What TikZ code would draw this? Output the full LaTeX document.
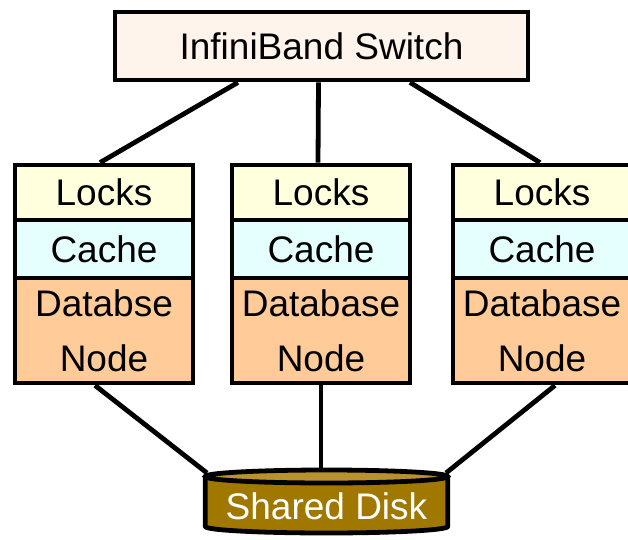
\documentclass[tikz,border=0pt]{standalone}
\usepackage{fontspec}
\setmainfont{Liberation Sans}
\usetikzlibrary{backgrounds}
\definecolor{swfill}{HTML}{FFF4EB}
\definecolor{lockfill}{HTML}{FFFFDD}
\definecolor{cachefill}{HTML}{E5FFFF}
\definecolor{dbfill}{HTML}{FFCC99}
\definecolor{diskbody}{HTML}{A07800}
\definecolor{disktop}{HTML}{B8922F}
\begin{document}
\begin{tikzpicture}[x=1pt,y=1pt,
  box/.style={draw=black,line width=4.8pt,inner sep=0pt,minimum width=178pt,
    font=\fontsize{37}{55}\selectfont,text=black,align=center},
  link/.style={line width=4.8pt,draw=black}]
\useasboundingbox (0,0) rectangle (628,539);
\node[box,fill=swfill,minimum width=413pt,minimum height=68pt] (sw) at (321.5,493) {InfiniBand Switch};
\foreach \n/\x/\t in {1/104/Databse,2/321/Database,3/542/Database}{
  \node[box,fill=lockfill,minimum height=55pt] (lk\n) at (\x,346.5) {Locks};
  \node[box,fill=cachefill,minimum height=58pt] (ca\n) at (\x,290) {Cache};
  \node[box,fill=dbfill,minimum height=105pt] (db\n) at (\x,208.5) {\t\\Node};
}
\coordinate (dl) at (207,66);
\coordinate (dm) at (321,66);
\coordinate (dr) at (446,66);
\begin{scope}[on background layer]
  \draw[link] ([xshift=-83.5pt]sw.south) -- ([xshift=-4pt]lk1.north);
  \draw[link] ([xshift=-3pt]sw.south) -- ([xshift=-3pt]lk2.north);
  \draw[link] ([xshift=88.5pt]sw.south) -- ([xshift=-2pt]lk3.north);
  \draw[link] ([xshift=-9pt]db1.south) -- (dl);
  \draw[link] (db2.south) -- (dm);
  \draw[link] ([xshift=13pt]db3.south) -- (dr);
\end{scope}
% shared disk
\fill[diskbody] (205.25,62.5) -- (205.25,12.5) arc[start angle=180,end angle=360,x radius=121.25,y radius=6.5] -- (447.75,62.5) -- cycle;
\draw[link,line join=round] (205.25,62.5) -- (205.25,12.5) arc[start angle=180,end angle=360,x radius=121.25,y radius=6.5] -- (447.75,62.5);
\draw[link,fill=disktop] (326.5,62.5) ellipse[x radius=121.25,y radius=6.5];
\node[font=\fontsize{37}{44}\selectfont,text=white,inner sep=0pt] (disk) at (326.5,32.5) {Shared Disk};
\end{tikzpicture}
\end{document}
